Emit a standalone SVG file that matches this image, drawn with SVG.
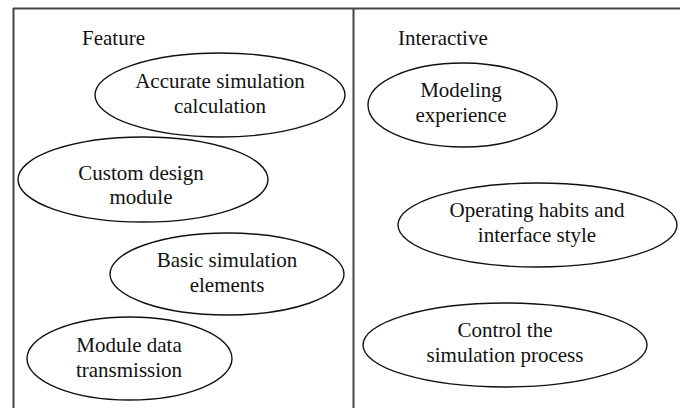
<svg xmlns="http://www.w3.org/2000/svg" width="680" height="408" viewBox="0 0 680 408">
<style>
.frame{stroke:#444;stroke-width:2;fill:none}
.node ellipse{fill:#fff;stroke:#111;stroke-width:1.4}
text{font-family:'Liberation Serif','DejaVu Serif',serif;font-size:21px;fill:#111}
.node text{text-anchor:middle}
</style>
<rect width="680" height="408" fill="#fff"/>
<g id="frame">
<line class="frame" x1="13" y1="8.5" x2="680" y2="8.5"/>
<line class="frame" x1="13.5" y1="8" x2="13.5" y2="408"/>
<line class="frame" x1="353.5" y1="8" x2="353.5" y2="408"/>
<text x="82" y="45">Feature</text>
<text x="398" y="45">Interactive</text>
</g>
<g id="connectors"></g>
<g id="n1" class="node"><ellipse cx="220" cy="95" rx="125" ry="42"/><text x="220" y="88">Accurate simulation</text><text x="220" y="113">calculation</text></g>
<g id="n2" class="node"><ellipse cx="143" cy="179.5" rx="125" ry="42.5"/><text x="141" y="180">Custom design</text><text x="141" y="204">module</text></g>
<g id="n3" class="node"><ellipse cx="227" cy="274" rx="117" ry="41"/><text x="227" y="267">Basic simulation</text><text x="227" y="292">elements</text></g>
<g id="n4" class="node"><ellipse cx="129.5" cy="358.5" rx="102.5" ry="41.5"/><text x="129" y="352">Module data</text><text x="129" y="377">transmission</text></g>
<g id="n5" class="node"><ellipse cx="462.5" cy="105" rx="94.5" ry="42"/><text x="461" y="97">Modeling</text><text x="461" y="122">experience</text></g>
<g id="n6" class="node"><ellipse cx="537.5" cy="225" rx="139.5" ry="42"/><text x="537" y="217">Operating habits and</text><text x="537" y="242">interface style</text></g>
<g id="n7" class="node"><ellipse cx="505" cy="345" rx="142" ry="42"/><text x="505" y="337">Control the</text><text x="505" y="362">simulation process</text></g>
</svg>
